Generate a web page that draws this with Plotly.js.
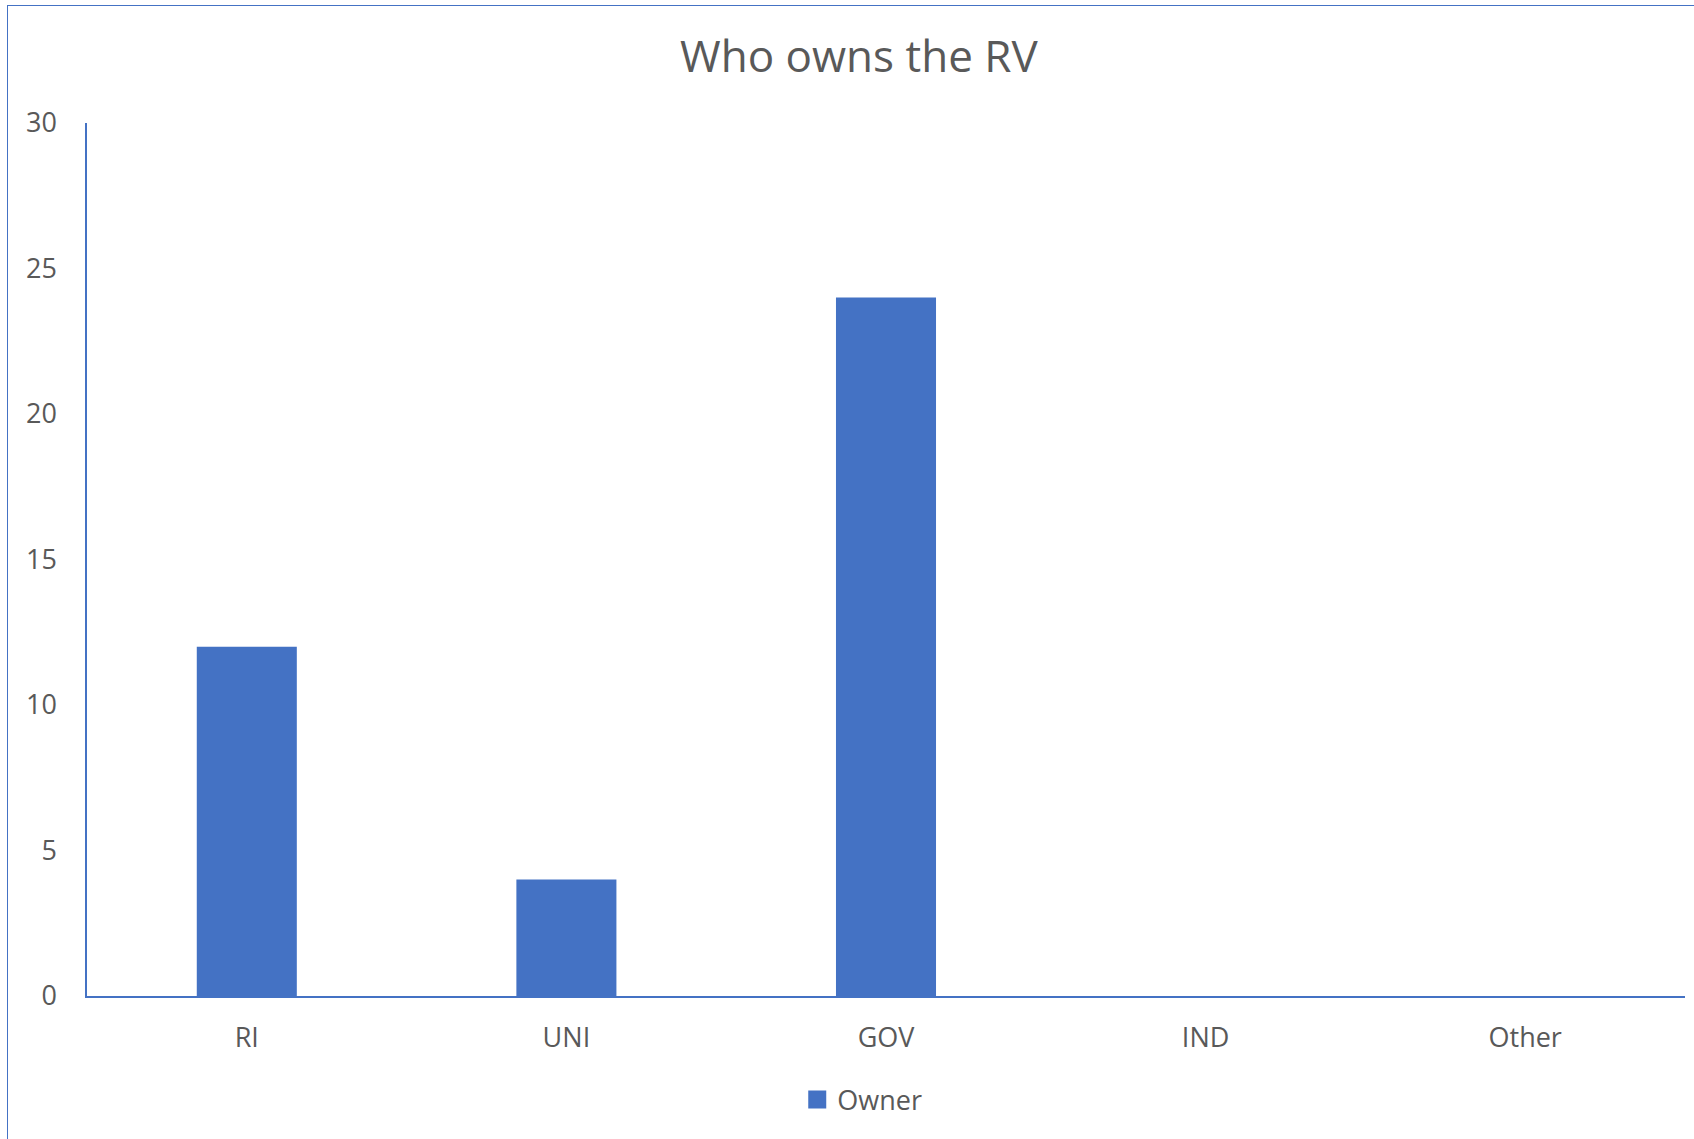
<!DOCTYPE html>
<html>
<head>
<meta charset="utf-8">
<script src="https://cdn.plot.ly/plotly-3.0.1.min.js"></script>
<style>
  html, body { margin: 0; padding: 0; background: #fff; overflow: hidden; }
  #chart { position: absolute; left: 0; top: 0; width: 1694px; height: 1139px; }
  #frame { position: absolute; left: 6.5px; top: 4.5px; width: 2000px; height: 2000px;
           border: 1.6px solid #4472C4; pointer-events: none; }
</style>
</head>
<body>
<div id="chart"></div>
<div id="frame"></div>
<script>
const categories = ["RI", "UNI", "GOV", "IND", "Other"];
const ownerValues = [12, 4, 24, 0, 0];
const yTicks = [0, 5, 10, 15, 20, 25, 30];
const seriesName = "Owner";
const chartTitle = "Who owns the RV";

const fontFamily = '"Open Sans", "Segoe UI", "DejaVu Sans", sans-serif';
const textColor = "#595959";
const blue = "#4472C4";

const trace = {
  type: "bar",
  x: categories,
  y: ownerValues,
  name: seriesName,
  marker: { color: blue, line: { width: 0 } },
  hoverinfo: "x+y"
};

const layout = {
  width: 1694,
  height: 1139,
  margin: { l: 86.5, r: 9, t: 123, b: 143.3, pad: 0 },
  paper_bgcolor: "#ffffff",
  plot_bgcolor: "#ffffff",
  font: { family: fontFamily, color: textColor, size: 27 },
  title: {
    text: chartTitle,
    font: { family: fontFamily, size: 44, color: textColor },
    xref: "container", x: 0.507, xanchor: "center",
    yref: "container", y: 1 - 57 / 1139, yanchor: "middle"
  },
  bargap: 0.687,
  showlegend: true,
  legend: {
    orientation: "h",
    xref: "container", x: 0.509, xanchor: "center",
    yref: "container", y: 1 - 1100 / 1139, yanchor: "middle",
    font: { family: fontFamily, size: 27, color: textColor },
    itemwidth: 30
  },
  xaxis: {
    type: "category",
    showline: true,
    linecolor: blue,
    linewidth: 1.7,
    showgrid: false,
    zeroline: false,
    ticks: "outside",
    ticklen: 17,
    tickcolor: "rgba(0,0,0,0)",
    tickfont: { family: fontFamily, size: 27, color: textColor },
    fixedrange: true
  },
  yaxis: {
    range: [0, 30],
    tickvals: yTicks,
    ticktext: yTicks.map(String),
    showline: true,
    linecolor: blue,
    linewidth: 1.7,
    showgrid: false,
    zeroline: false,
    ticks: "outside",
    ticklen: 23,
    tickcolor: "rgba(0,0,0,0)",
    tickfont: { family: fontFamily, size: 27, color: textColor },
    fixedrange: true
  }
};

Plotly.newPlot("chart", [trace], layout, { displayModeBar: false, staticPlot: true }).then(function (gd) {
  // enlarge the legend swatch to match the reference square
  gd.querySelectorAll(".legendpoints path").forEach(function (p) {
    p.setAttribute("d", "M9,9H-9V-9H9Z");
  });
});
</script>
</body>
</html>
